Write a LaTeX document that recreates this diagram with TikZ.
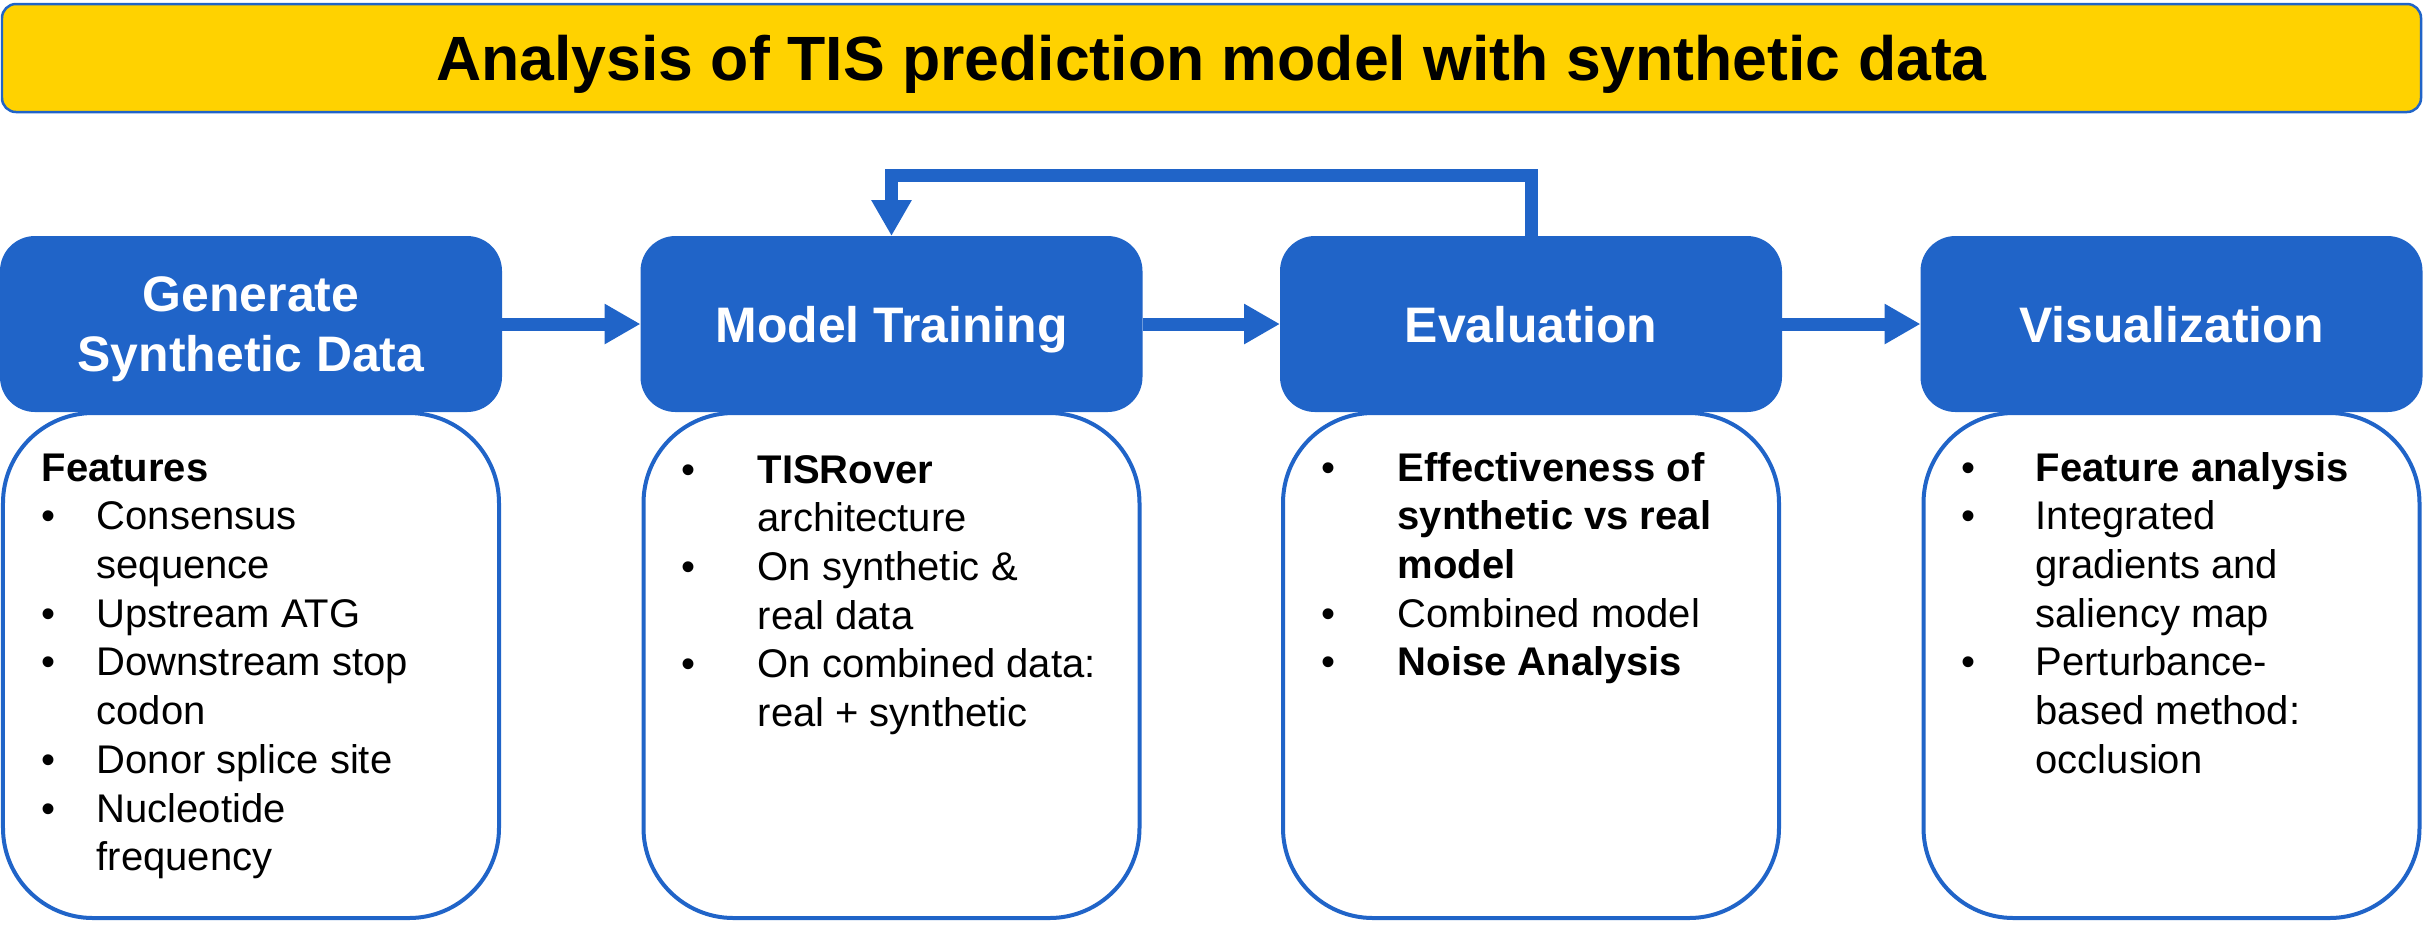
\documentclass[tikz,border=0pt]{standalone}
\usepackage{fontspec}
\setmainfont{Liberation Sans}
\usetikzlibrary{arrows.meta, positioning}

\definecolor{tisblue}{RGB}{32,100,200}
\definecolor{tisyellow}{RGB}{255,210,0}

\tikzstyle{banner}    = [draw=tisblue, fill=tisyellow, line width=0.025cm, rounded corners=0.14cm, minimum width=24.19cm, minimum height=1.08cm, inner sep=0pt, text depth=0pt, font=\fontsize{17.8}{21}\selectfont\bfseries]
\tikzstyle{stage}     = [fill=tisblue, rounded corners=0.35cm, minimum width=5.02cm, minimum height=1.76cm, inner sep=0pt, outer sep=0pt, align=center, text=white, text depth=0pt, font=\fontsize{14.2}{17.07}\selectfont\bfseries]
\tikzstyle{card}      = [draw=tisblue, fill=white, line width=0.04cm, rounded corners=0.9cm, minimum width=4.96cm, minimum height=5.05cm]
\tikzstyle{items}     = [anchor=base west, inner sep=0pt, font=\fontsize{11.38}{13.86}\selectfont]
\tikzstyle{flowarrow} = [draw=tisblue, line width=0.13cm, -{Triangle[length=0.36cm, width=0.38cm]}]

\begin{document}
\begin{tikzpicture}[]
\useasboundingbox (0,0) rectangle (24.24,-9.34);

% title
\node [banner] at ( 12.115, -0.58 ) (title) {Analysis of TIS prediction model with synthetic data};

% cards
\node [card]   at (  2.51 , -6.655) (gencard)   {};
\node [card]   at (  8.915, -6.655) (traincard) {};
\node [card]   at ( 15.31 , -6.655) (evalcard)  {};
\node [card]   at ( 21.715, -6.655) (viscard)   {};

% stages
\node [stage]  at (  2.51 , -3.24 ) (gen)   {Generate\\Synthetic Data};
\node [stage]  at (  8.915, -3.24 ) (train) {Model Training};
\node [stage]  at ( 15.31 , -3.24 ) (eval)  {Evaluation};
\node [stage]  at ( 21.715, -3.24 ) (vis)   {Visualization};

% lists
\node [items]  at (  0.41 , -4.81 ) (genlist) {\begin{tabular}[t]{@{}p{0.55cm}@{}l@{}}
  \multicolumn{2}{@{}l@{}}{\textbf{Features}}\\
  \textbullet & Consensus\\
              & sequence\\
  \textbullet & Upstream ATG\\
  \textbullet & Downstream stop\\
              & codon\\
  \textbullet & Donor splice site\\
  \textbullet & Nucleotide\\
              & frequency
\end{tabular}};
\node [items]  at (  6.81 , -4.83 ) (trainlist) {\begin{tabular}[t]{@{}p{0.76cm}@{}l@{}}
  \textbullet & \textbf{TISRover}\\
              & architecture\\
  \textbullet & On synthetic \&\\
              & real data\\
  \textbullet & On combined data:\\
              & real + synthetic
\end{tabular}};
\node [items]  at ( 13.21 , -4.81 ) (evallist) {\begin{tabular}[t]{@{}p{0.76cm}@{}l@{}}
  \textbullet & \textbf{Effectiveness of}\\
              & \textbf{synthetic vs real}\\
              & \textbf{model}\\
  \textbullet & Combined model\\
  \textbullet & \textbf{Noise Analysis}
\end{tabular}};
\node [items]  at ( 19.61 , -4.81 ) (vislist) {\begin{tabular}[t]{@{}p{0.74cm}@{}l@{}}
  \textbullet & \textbf{Feature analysis}\\
  \textbullet & Integrated\\
              & gradients and\\
              & saliency map\\
  \textbullet & Perturbance-\\
              & based method:\\
              & occlusion
\end{tabular}};

% edges
\path
  (gen)   edge [flowarrow] (train)
  (train) edge [flowarrow] (eval)
  (eval)  edge [flowarrow] (vis);
\draw [flowarrow] (eval.north) -- ++(0, 0.61) -| (train.north);

\end{tikzpicture}
\end{document}
